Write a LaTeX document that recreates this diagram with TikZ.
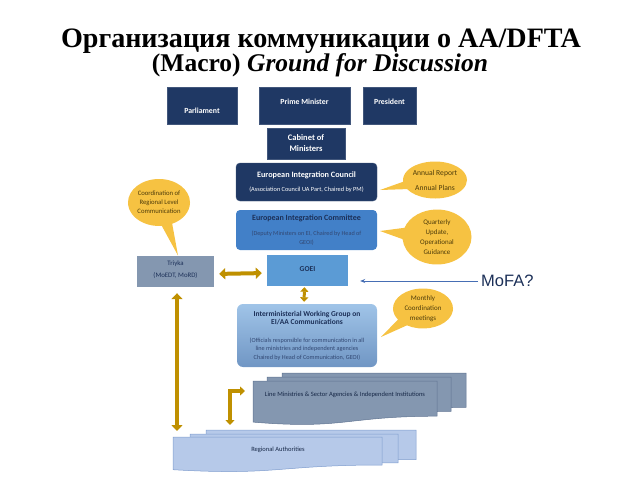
\documentclass[tikz,border=0pt]{standalone}
\usepackage{fontspec}
\setmainfont{Liberation Serif}
\newfontfamily\smallfont{Carlito}
\newfontfamily\arialfont{Liberation Sans}
\usetikzlibrary{arrows.meta,shapes.callouts}
\definecolor{navy}{RGB}{31,56,100}
\definecolor{navytext}{RGB}{28,48,88}
\definecolor{subtext}{RGB}{50,72,115}
\definecolor{midblue}{RGB}{66,128,200}
\definecolor{goeiblue}{RGB}{91,155,213}
\definecolor{iwgtop}{RGB}{160,196,232}
\definecolor{iwgbot}{RGB}{112,150,196}
\definecolor{grayblue}{RGB}{132,151,176}
\definecolor{grayblueedge}{RGB}{96,116,146}
\definecolor{lightblue}{RGB}{182,201,233}
\definecolor{lightblueedge}{RGB}{126,156,206}
\definecolor{gold}{RGB}{246,194,66}
\definecolor{calltext}{RGB}{78,60,10}
\definecolor{arrowgold}{RGB}{191,144,0}
\definecolor{mofaline}{RGB}{70,110,180}
\newcommand\mysubwhite{\mdseries\fontsize{6.3}{7}\selectfont}
\newcommand\mysubblue{\mdseries\fontsize{6.2}{7}\selectfont\color{subtext}}
\newcommand\docsheet[5]{% x1, y1, x2, H, style
  \draw[#5] (#1,#2) -- (#3,#2) -- (#3,{#2+0.80*#4})
    .. controls ({(#1+#3)/2},{#2+0.80*#4}) and ({(#1+#3)/2},{#2+1.107*#4}) ..
    (#1,{#2+0.934*#4}) -- cycle;}
\begin{document}
\begin{tikzpicture}[x=1pt,y=-1pt,
  navybox/.style={fill=navy, draw=navy!85!white, line width=0.4pt, inner sep=0pt,
    text=white, font=\smallfont\bfseries\fontsize{7.8}{9}\selectfont, align=center},
  bluebox/.style={draw=none, inner sep=0pt, text=navytext, align=center},
  bubble/.style={ellipse callout, fill=gold, draw=none, inner sep=0pt,
    text=calltext, align=center, callout pointer arc=24},
  goldarrow/.style={draw=arrowgold, line width=4pt,
    {Triangle[width=11pt,length=6pt]}-{Triangle[width=11pt,length=6pt]}},
  smallgold/.style={draw=arrowgold, line width=3pt,
    {Triangle[width=8pt,length=4.5pt]}-{Triangle[width=8pt,length=4.5pt]}},
  lmsheet/.style={fill=grayblue, draw=grayblueedge, line width=0.5pt},
  rasheet/.style={fill=lightblue, draw=lightblueedge, line width=0.5pt},
  sheettext/.style={inner sep=0pt, text=navytext!80!black, font=\smallfont\fontsize{6.5}{8}\selectfont}
]
\useasboundingbox (0,0) rectangle (638,479);
% Title
\node[anchor=base, inner sep=0pt, font=\bfseries\fontsize{28.1}{30}\selectfont] (t1) at (321,47)
  {Организация коммуникации о AA/DFTA};
\node[anchor=base, inner sep=0pt, font=\bfseries\fontsize{25.5}{30}\selectfont] (t2) at (320,71)
  {(Macro) \textit{Ground for Discussion}};
% Top level
\node[navybox, minimum width=70pt, minimum height=37pt, text height=18pt, text depth=2pt] (parl) at (202,105.5) {Parliament};
\node[navybox, minimum width=91pt, minimum height=37pt, text height=5.5pt, text depth=8pt] (pm) at (304.5,105.5) {Prime Minister};
\node[navybox, minimum width=53pt, minimum height=37pt, text height=5.5pt, text depth=8pt] (pres) at (389.5,105.5) {President};
\node[navybox, minimum width=78pt, minimum height=31pt, font=\smallfont\bfseries\fontsize{8.5}{11}\selectfont] (cab) at (306,143.5) {Cabinet of\\Ministers};
% Councils
\node[navybox, rounded corners=4pt, minimum width=141pt, minimum height=38pt,
  font=\smallfont\bfseries\fontsize{8.2}{14}\selectfont] (eic) at (306.5,182)
  {European Integration Council\\\mysubwhite(Association Council UA Part, Chaired by PM)};
\node[bluebox, fill=midblue, rounded corners=4pt, minimum width=141pt, minimum height=40pt,
  font=\smallfont\bfseries\fontsize{8}{9}\selectfont] (eicom) at (306.5,230)
  {\mbox{}\\[-4pt]European Integration Committee\\[6pt]\mysubblue(Deputy Ministers on EI, Chaired by Head of\\\mysubblue GEOI)};
\node[bluebox, fill=goeiblue, minimum width=81pt, minimum height=31pt,
  font=\smallfont\bfseries\fontsize{7.5}{8}\selectfont, text height=5.5pt, text depth=4pt] (goei) at (307.5,270.5) {GOEI};
\node[bluebox, rounded corners=6pt, top color=iwgtop, bottom color=iwgbot, minimum width=140pt, minimum height=63pt,
  font=\smallfont\bfseries\fontsize{7.5}{8.5}\selectfont] (iwg) at (307,335.5)
  {Interministerial Working Group on\\EI/AA Communications\\[9pt]\mysubblue(Officials responsible for communication in all\\\mysubblue line ministries and independent agencies\\\mysubblue Chaired by Head of Communication, GEOI)};
% Triyka
\node[bluebox, fill=grayblue, minimum width=77pt, minimum height=31pt,
  font=\smallfont\fontsize{6.8}{12}\selectfont, text depth=4pt] (tr) at (175.5,271.5) {Triyka\\(MoEDT, MoRD)};
% Callouts
\node[bubble, minimum width=64pt, minimum height=37pt, font=\smallfont\fontsize{7.6}{15}\selectfont,
  callout absolute pointer={(380,190)}] (annual) at (435,180) {Annual Report\\Annual Plans};
\node[bubble, minimum width=69pt, minimum height=55pt, font=\smallfont\fontsize{7}{10}\selectfont,
  callout absolute pointer={(380,231)}] (quart) at (437,237) {Quarterly\\Update,\\Operational\\Guidance};
\node[bubble, minimum width=60pt, minimum height=40pt, font=\smallfont\fontsize{7}{10}\selectfont,
  callout absolute pointer={(381,337)}] (month) at (423,308.5) {Monthly\\Coordination\\meetings};
\node[bubble, minimum width=62pt, minimum height=47pt, font=\smallfont\fontsize{6.7}{9}\selectfont,
  callout absolute pointer={(178,255.5)}, callout pointer arc=20] (coord) at (159,202.5) {Coordination of\\Regional Level\\Communication};
% Document stacks
\docsheet{282}{373}{466}{43}{lmsheet}
\docsheet{267}{377}{451}{43}{lmsheet}
\docsheet{253}{381}{437}{44}{lmsheet}
\node[sheettext] (lm) at (345,395) {Line Ministries \& Sector Agencies \& Independent Institutions};
\docsheet{206}{430}{416}{37}{rasheet}
\docsheet{190}{434}{398}{36}{rasheet}
\docsheet{173}{437}{382}{35}{rasheet}
\node[sheettext] (ra) at (278,450) {Regional Authorities};
% MoFA
\node[anchor=west, inner sep=0pt, text=navytext, font=\arialfont\fontsize{16.5}{18}\selectfont] (mofa) at (481,281) {MoFA?};
\draw[mofaline, line width=0.7pt, -{Stealth[length=5pt,width=4pt]}, shorten <=3pt, shorten >=12pt] (mofa.west) -- (goei.east |- mofa.west);
% Connectors
\coordinate (lmin) at (245,391);
\coordinate (raout) at (230,425);
\coordinate (ratop) at (177,431);
\draw[goldarrow, shorten <=5pt, shorten >=5pt] ([yshift=-2.5pt]tr.east) -- ([yshift=-2.5pt]goei.west);
\draw[smallgold, shorten <=1pt, shorten >=2pt] ([xshift=-3pt]goei.south) -- ([xshift=-3pt]iwg.north);
\draw[goldarrow, shorten <=6pt] ([xshift=1.5pt]tr.south) -- (ratop);
\draw[draw=arrowgold, line width=3.5pt, {Triangle[width=9pt,length=5pt]}-{Triangle[width=9pt,length=5pt]}] (raout) |- (lmin);
\end{tikzpicture}
\end{document}
